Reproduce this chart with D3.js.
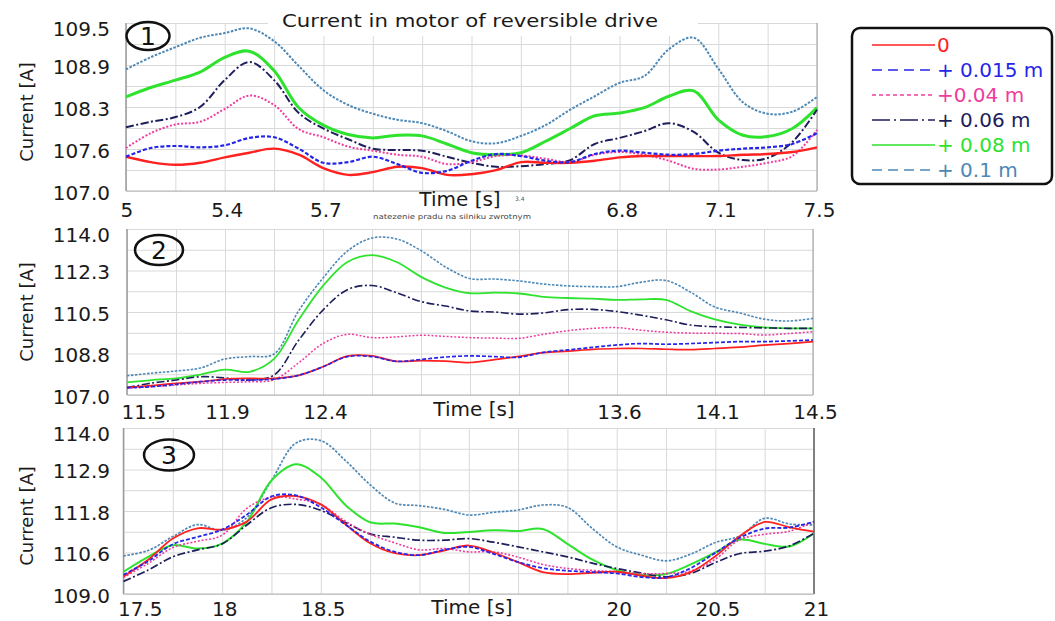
<!DOCTYPE html>
<html><head><meta charset="utf-8">
<script src="https://cdn.jsdelivr.net/npm/d3@7"></script>
<style>body{margin:0;background:#fff;} svg{display:block;}</style>
</head><body>
<svg id="c" width="1055" height="621"></svg>
<script>
// ---------------- DATA ----------------
const seriesNames = ["0", "+ 0.015 m", "+0.04 m", "+ 0.06 m", "+ 0.08 m", "+ 0.1 m"];

// Panel 1 : 5 - 7.5 s
const p1Time = [5.000,5.089,5.179,5.268,5.357,5.446,5.536,5.625,5.714,5.804,5.893,5.982,6.071,6.161,6.250,6.339,6.429,6.518,6.607,6.696,6.786,6.875,6.964,7.054,7.143,7.232,7.321,7.411,7.500];
const p1_s0   = [107.51,107.43,107.39,107.42,107.50,107.57,107.63,107.54,107.34,107.24,107.28,107.36,107.34,107.24,107.25,107.31,107.43,107.42,107.42,107.45,107.50,107.52,107.52,107.52,107.52,107.54,107.55,107.58,107.65];
const p1_s015 = [107.51,107.64,107.67,107.65,107.68,107.79,107.80,107.63,107.42,107.43,107.51,107.40,107.27,107.30,107.45,107.55,107.52,107.45,107.43,107.55,107.60,107.57,107.54,107.55,107.60,107.63,107.65,107.70,107.86];
const p1_s04  = [107.64,107.86,107.99,108.03,108.22,108.42,108.28,107.92,107.80,107.66,107.60,107.54,107.51,107.40,107.43,107.52,107.53,107.48,107.43,107.54,107.58,107.54,107.45,107.33,107.32,107.36,107.42,107.52,107.91];
const p1_s06  = [107.95,108.03,108.10,108.25,108.65,108.92,108.65,108.16,107.93,107.77,107.63,107.61,107.60,107.51,107.42,107.36,107.37,107.40,107.46,107.70,107.79,107.89,108.01,107.88,107.57,107.46,107.49,107.73,108.21];
const p1_s08  = [108.40,108.54,108.65,108.77,108.99,109.08,108.79,108.24,107.98,107.84,107.79,107.83,107.82,107.70,107.57,107.54,107.57,107.74,107.93,108.12,108.16,108.24,108.41,108.49,108.06,107.83,107.81,107.93,108.24];
const p1_s1   = [108.81,108.99,109.14,109.28,109.35,109.42,109.23,108.86,108.50,108.28,108.15,108.06,108.01,107.89,107.74,107.71,107.82,107.98,108.21,108.41,108.61,108.71,109.11,109.28,108.82,108.32,108.15,108.18,108.40];
const p1XLabels = ["5", "5.4", "5.7", "6.8", "7.1", "7.5"];
const p1YLabels = ["107.0", "107.6", "108.3", "108.9", "109.5"];

// Panel 2 : 11.5 - 14.5 s
const p2Time = [11.500,11.607,11.714,11.821,11.929,12.036,12.143,12.250,12.357,12.464,12.571,12.679,12.786,12.893,13.000,13.107,13.214,13.321,13.429,13.536,13.643,13.750,13.857,13.964,14.071,14.179,14.286,14.393,14.500];
const p2_s0   = [107.31,107.40,107.49,107.56,107.67,107.70,107.70,107.83,108.19,108.64,108.65,108.42,108.45,108.43,108.37,108.49,108.63,108.79,108.85,108.92,108.96,108.96,108.93,108.91,108.96,109.02,109.10,109.17,109.25];
const p2_s015 = [107.31,107.35,107.45,107.56,107.63,107.63,107.67,107.83,108.19,108.62,108.62,108.42,108.50,108.60,108.65,108.62,108.59,108.80,108.90,109.01,109.11,109.17,109.14,109.17,109.21,109.25,109.25,109.28,109.32];
const p2_s04  = [107.28,107.35,107.42,107.49,107.53,107.56,107.64,108.35,109.17,109.56,109.42,109.45,109.52,109.47,109.42,109.40,109.39,109.56,109.71,109.81,109.84,109.73,109.65,109.61,109.60,109.59,109.53,109.59,109.67];
const p2_s06  = [107.31,107.50,107.63,107.77,107.72,107.63,107.84,109.30,110.58,111.44,111.62,111.31,110.94,110.75,110.54,110.50,110.41,110.46,110.60,110.61,110.52,110.36,110.17,109.95,109.88,109.85,109.83,109.81,109.81];
const p2_s08  = [107.53,107.63,107.70,107.86,108.07,107.98,108.52,110.16,111.60,112.61,112.90,112.61,111.98,111.53,111.29,111.32,111.28,111.14,111.09,111.06,111.01,111.03,111.01,110.54,110.19,109.97,109.85,109.81,109.81];
const p2_s1   = [107.81,107.92,108.01,108.14,108.52,108.62,108.73,110.54,111.93,113.07,113.62,113.58,113.09,112.40,111.91,111.89,111.81,111.68,111.60,111.57,111.57,111.76,111.83,111.34,110.71,110.46,110.20,110.12,110.23];
const p2XLabels = ["11.5", "11.9", "12.4", "13.6", "14.1", "14.5"];
const p2YLabels = ["107.0", "108.8", "110.5", "112.3", "114.0"];

// Panel 3 : 17.5 - 21 s
const p3Time = [17.500,17.625,17.750,17.875,18.000,18.125,18.250,18.375,18.500,18.625,18.750,18.875,19.000,19.125,19.250,19.375,19.500,19.625,19.750,19.875,20.000,20.125,20.250,20.375,20.500,20.625,20.750,20.875,21.000];
const p3_s0   = [109.53,110.03,110.67,110.98,110.94,111.18,111.85,111.95,111.70,111.10,110.53,110.23,110.17,110.31,110.46,110.25,109.96,109.66,109.60,109.64,109.67,109.55,109.48,109.66,110.14,110.75,111.17,111.01,110.88];
const p3_s015 = [109.58,109.99,110.50,110.72,110.94,111.39,111.94,111.97,111.61,111.09,110.58,110.27,110.17,110.33,110.42,110.21,109.96,109.78,109.70,109.66,109.62,109.51,109.50,109.78,110.24,110.70,110.97,111.00,111.18];
const p3_s04  = [109.50,109.92,110.40,110.59,110.77,111.58,111.92,111.86,111.70,111.19,110.80,110.54,110.33,110.37,110.27,110.27,110.11,109.89,109.77,109.71,109.67,109.61,109.62,109.69,110.05,110.64,110.80,110.89,111.18];
const p3_s06  = [109.38,109.72,110.12,110.33,110.51,111.08,111.60,111.70,111.52,111.15,110.81,110.71,110.62,110.62,110.67,110.56,110.42,110.27,110.12,109.93,109.77,109.63,109.52,109.62,109.95,110.22,110.29,110.45,110.83];
const p3_s08  = [109.67,110.12,110.47,110.37,110.52,111.17,112.42,112.91,112.51,111.68,111.16,111.12,111.01,110.84,110.87,110.92,110.90,110.96,110.51,110.04,109.72,109.57,109.60,109.89,110.25,110.64,110.51,110.43,110.83];
const p3_s1   = [110.15,110.31,110.73,111.09,110.92,111.30,112.42,113.55,113.62,113.02,112.29,111.74,111.66,111.55,111.38,111.46,111.53,111.68,111.61,110.98,110.42,110.17,110.00,110.20,110.55,110.75,111.28,111.11,111.08];
const p3XLabels = ["17.5", "18", "18.5", "20", "20.5", "21"];
const p3YLabels = ["109.0", "110.6", "111.8", "112.9", "114.0"];

const chartTitle = "Current in motor of reversible drive";
const xTitle = "Time [s]";
const yTitle = "Current [A]";

// ---------------- STYLE / LAYOUT ----------------
const colors = ["#ff2020", "#2626e8", "#ee3c9e", "#1e1e5c", "#2ee22e", "#4d88b6"];
const plotDash = [null, "4,2", "2,1.8", "8,2.5,2,2.5", null, "2.5,1.5"];
const legendDash = [null, "10,6", "4,3", "18,4,2,4", null, "10,6"];
const drawOrder = [5, 4, 3, 2, 0, 1];
const FONT = "'DejaVu Sans', sans-serif";

const panels = [
  {num: "1", time: p1Time, series: [p1_s0,p1_s015,p1_s04,p1_s06,p1_s08,p1_s1],
   xd: [5, 7.5], yd: [107, 109.5], xl: p1XLabels, yl: p1YLabels,
   l: 126, r: 817, t: 23, b: 191, widths: [2.4,2.2,2.0,2.0,3.0,2.0],
   xLabY: 26, timeX: 460, timeY: 206, yPad: 16, yAxisTitleY: 112,
   ell: [148, 36, 21.5, 14]},
  {num: "2", time: p2Time, series: [p2_s0,p2_s015,p2_s04,p2_s06,p2_s08,p2_s1],
   xd: [11.5, 14.5], yd: [107, 114], xl: p2XLabels, yl: p2YLabels,
   l: 127, r: 813, t: 229, b: 395, widths: [1.7,1.7,1.5,1.6,1.8,1.6],
   xLabY: 24, timeX: 474, timeY: 416, yPad: 17, yAxisTitleY: 312,
   ell: [159, 250, 24, 15]},
  {num: "3", time: p3Time, series: [p3_s0,p3_s015,p3_s04,p3_s06,p3_s08,p3_s1],
   xd: [17.5, 21], yd: [109, 114], xl: p3XLabels, yl: p3YLabels,
   l: 123.5, r: 814, t: 428, b: 594, widths: [1.8,1.8,1.6,1.7,2.0,1.7],
   xLabY: 22, timeX: 472, timeY: 614, yPad: 13.5, yAxisTitleY: 516,
   ell: [169, 455, 25, 15.5]}
];
const xLabelSlots = [0, 2, 4, 10, 12, 14];
const yLabelSlots = [0, 2, 4, 6, 8];

const svg = d3.select("#c");
svg.append("rect").attr("width",1055).attr("height",621).attr("fill","#fff");

panels.forEach((p, pi) => {
  const x = d3.scaleLinear().domain(p.xd).range([p.l, p.r]);
  const y = d3.scaleLinear().domain(p.yd).range([p.b, p.t]);
  const xGrid = d3.range(15).map(i => p.xd[0] + i * (p.xd[1] - p.xd[0]) / 14);
  const yGrid = d3.range(9).map(i => p.yd[0] + i * (p.yd[1] - p.yd[0]) / 8);
  const g = svg.append("g");

  // grid
  g.append("g").attr("transform", `translate(0,${p.b})`)
    .call(d3.axisBottom(x).tickValues(xGrid).tickSize(-(p.b - p.t)).tickFormat(""))
    .call(a => a.select(".domain").remove())
    .selectAll("line").attr("stroke", "#d9d9d9").attr("stroke-width", 1);
  g.append("g").attr("transform", `translate(${p.l},0)`)
    .call(d3.axisLeft(y).tickValues(yGrid).tickSize(-(p.r - p.l)).tickFormat(""))
    .call(a => a.select(".domain").remove())
    .selectAll("line").attr("stroke", "#d9d9d9").attr("stroke-width", 1);

  if (pi === 0) {
    g.append("rect").attr("x", 268).attr("y", 0).attr("width", 430).attr("height", 36).attr("fill", "#fff");
  }

  // frame lines
  g.append("line").attr("x1", p.l).attr("x2", p.l).attr("y1", p.t).attr("y2", p.b)
    .attr("stroke", "#9a9a9a").attr("stroke-width", 1.5);
  g.append("line").attr("x1", p.r).attr("x2", p.r).attr("y1", p.t).attr("y2", p.b)
    .attr("stroke", pi === 2 ? "#666" : "#aaa").attr("stroke-width", pi === 2 ? 1.6 : 1.2);
  g.append("line").attr("x1", p.l).attr("x2", p.r).attr("y1", p.b).attr("y2", p.b)
    .attr("stroke", "#b5b5b5").attr("stroke-width", 1.2);

  // x tick labels
  const xa = g.append("g").attr("transform", `translate(0,${p.b})`)
    .call(d3.axisBottom(x).tickValues(xLabelSlots.map(i => xGrid[i]))
      .tickFormat((d, i) => p.xl[i]).tickSize(0));
  xa.select(".domain").remove();
  xa.selectAll("text").attr("y", p.xLabY).attr("dy", 0)
    .attr("font-family", FONT).attr("font-size", 20).attr("fill", "#1a1a1a")
    .attr("text-anchor", (d, i) => i === 0 ? "start" : "middle")
    .attr("x", (d, i) => i === 0 ? -6 : 2);

  // y tick labels
  const ya = g.append("g").attr("transform", `translate(${p.l},0)`)
    .call(d3.axisLeft(y).tickValues(yLabelSlots.map(i => yGrid[i]))
      .tickFormat((d, i) => p.yl[i]).tickSize(0).tickPadding(p.yPad));
  ya.select(".domain").remove();
  ya.selectAll("text").attr("font-family", FONT).attr("font-size", 20).attr("fill", "#1a1a1a")
    .attr("dy", (d, i) => i === 4 ? "0.6em" : "0.42em");

  // axis titles
  g.append("text").attr("x", p.timeX).attr("y", p.timeY).attr("text-anchor", "middle")
    .attr("font-family", FONT).attr("font-size", 20).attr("fill", "#1a1a1a").text(xTitle);
  g.append("text").attr("transform", `translate(33,${p.yAxisTitleY}) rotate(-90)`)
    .attr("text-anchor", "middle").attr("font-family", FONT).attr("font-size", 18)
    .attr("fill", "#1a1a1a").text(yTitle);

  // lines
  drawOrder.forEach(si => {
    const vals = p.series[si];
    const line = d3.line().x((d, i) => x(p.time[i])).y(d => y(d)).curve(d3.curveCatmullRom.alpha(0.5));
    g.append("path").datum(vals).attr("d", line).attr("fill", "none")
      .attr("stroke", colors[si]).attr("stroke-width", p.widths[si])
      .attr("stroke-dasharray", plotDash[si]).attr("stroke-linejoin", "round");
  });

  // circled panel number
  g.append("ellipse").attr("cx", p.ell[0]).attr("cy", p.ell[1]).attr("rx", p.ell[2]).attr("ry", p.ell[3])
    .attr("fill", "none").attr("stroke", "#111").attr("stroke-width", 2.5);
  g.append("text").attr("x", p.ell[0]).attr("y", p.ell[1] + 9).attr("text-anchor", "middle")
    .attr("font-family", FONT).attr("font-size", 25).attr("fill", "#111").text(p.num);
});

// title
svg.append("text").attr("x", 282).attr("y", 27).attr("font-family", FONT).attr("font-size", 18)
  .attr("fill", "#1a1a1a").attr("textLength", 376).attr("lengthAdjust", "spacingAndGlyphs").text(chartTitle);

// small stray texts present in the source
svg.append("text").attr("x", 515).attr("y", 201).attr("font-family", FONT).attr("font-size", 6)
  .attr("fill", "#555").text("3.4");
svg.append("text").attr("x", 373).attr("y", 219).attr("font-family", FONT).attr("font-size", 7)
  .attr("fill", "#444").attr("textLength", 158).attr("lengthAdjust", "spacingAndGlyphs")
  .text("natezenie pradu na silniku zwrotnym");

// legend
const lg = svg.append("g");
lg.append("rect").attr("x", 852).attr("y", 28).attr("width", 200).attr("height", 156).attr("rx", 8)
  .attr("fill", "#fff").attr("stroke", "#111").attr("stroke-width", 2.5);
seriesNames.forEach((n, i) => {
  const yy = 45 + i * 25;
  lg.append("line").attr("x1", 872).attr("x2", 935).attr("y1", yy).attr("y2", yy)
    .attr("stroke", colors[i]).attr("stroke-width", 1.6).attr("stroke-dasharray", legendDash[i]);
  lg.append("text").attr("x", 937).attr("y", yy + 7).attr("font-family", FONT).attr("font-size", 20)
    .attr("fill", colors[i]).text(n);
});
</script>
</body></html>
